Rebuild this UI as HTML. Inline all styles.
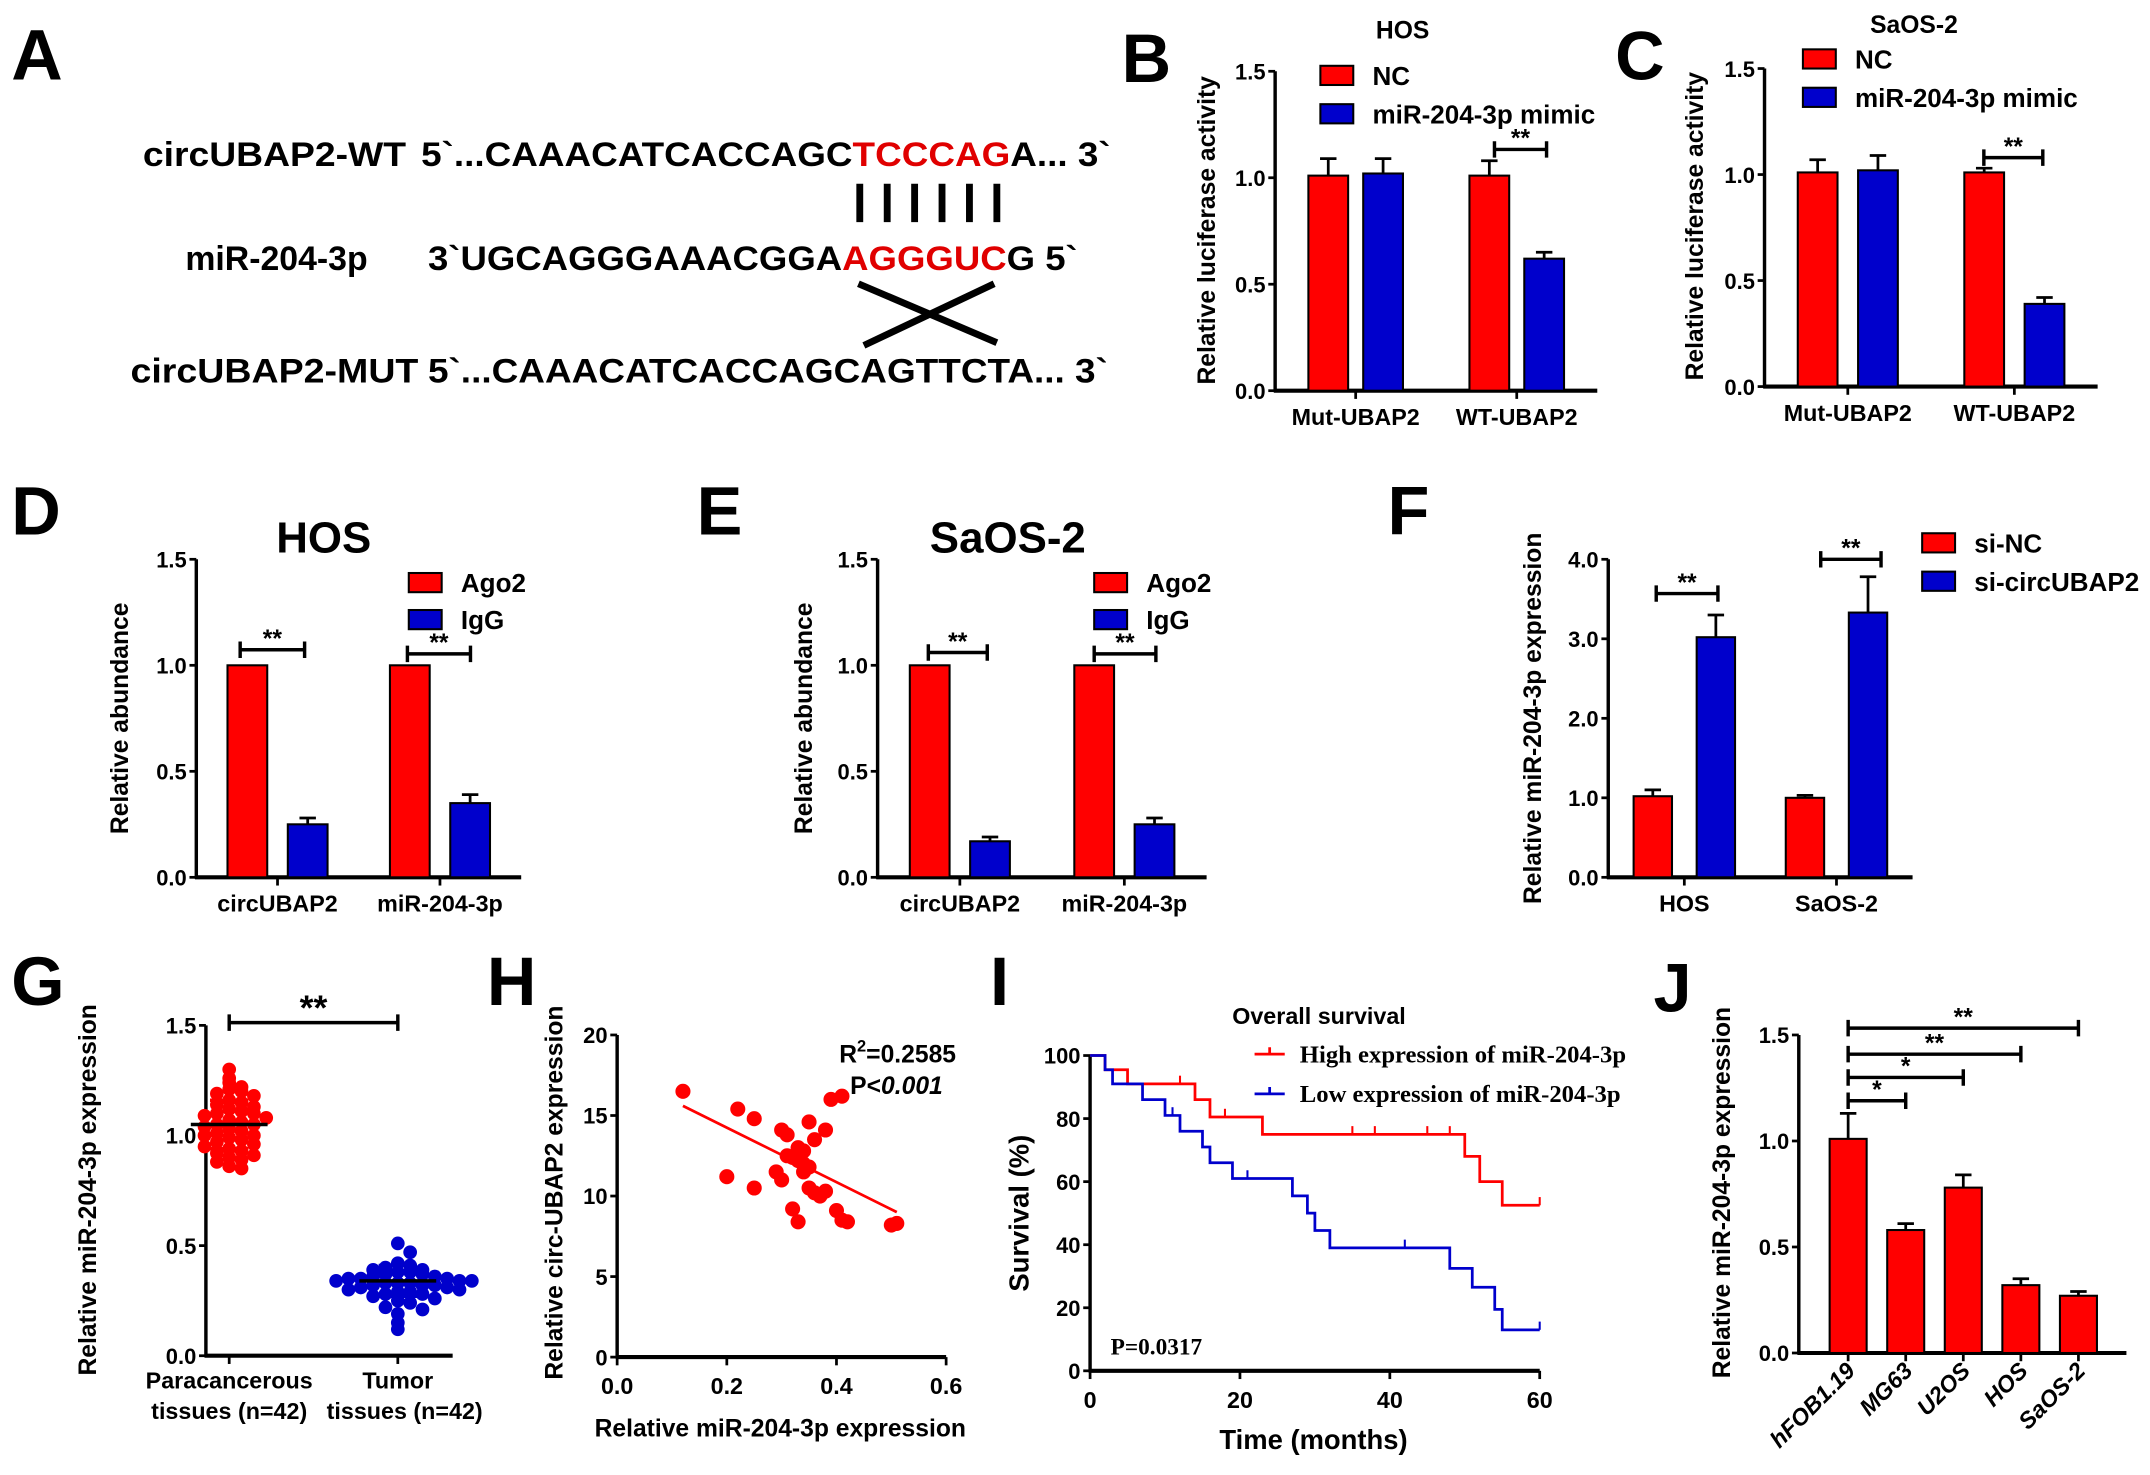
<!DOCTYPE html>
<html><head><meta charset="utf-8">
<style>
html,body{margin:0;padding:0;background:#fff;}
svg{display:block;}
text{font-family:"Liberation Sans",Arial,sans-serif;font-weight:bold;fill:#000;}
.serif{font-family:"Liberation Serif",serif;}
</style></head>
<body>
<svg id="fig" width="2150" height="1475" viewBox="0 0 1568 1076" xmlns="http://www.w3.org/2000/svg">
<g>
<text x="8" y="58" font-size="52">A</text>
<text x="296" y="121" font-size="25" text-anchor="end" textLength="192" lengthAdjust="spacingAndGlyphs">circUBAP2-WT</text>
<text x="307" y="121" font-size="25" textLength="503" lengthAdjust="spacingAndGlyphs">5`...CAAACATCACCAGC<tspan fill="#e00000" style="fill:#e00000">TCCCAG</tspan>A... 3`</text>
<g stroke="#000" stroke-width="5">
<line x1="627" y1="134" x2="627" y2="162"/><line x1="647" y1="134" x2="647" y2="162"/><line x1="667" y1="134" x2="667" y2="162"/><line x1="687" y1="134" x2="687" y2="162"/><line x1="707" y1="134" x2="707" y2="162"/><line x1="727" y1="134" x2="727" y2="162"/>
</g>
<text x="268" y="197" font-size="25" text-anchor="end" textLength="133" lengthAdjust="spacingAndGlyphs">miR-204-3p</text>
<text x="312" y="197" font-size="25" textLength="474" lengthAdjust="spacingAndGlyphs">3`UGCAGGGAAACGGA<tspan style="fill:#e00000">AGGGUC</tspan>G 5`</text>
<g stroke="#000" stroke-width="5">
<line x1="626" y1="207" x2="727" y2="250"/><line x1="725" y1="207" x2="630" y2="252"/>
</g>
<text x="305" y="279" font-size="25" text-anchor="end" textLength="210" lengthAdjust="spacingAndGlyphs">circUBAP2-MUT</text>
<text x="312" y="279" font-size="25" textLength="496" lengthAdjust="spacingAndGlyphs">5`...CAAACATCACCAGCAGTTCTA... 3`</text>
</g>
</svg>
<script>
// ===== DATA =====
const bCats = ['Mut-UBAP2','WT-UBAP2'];
const bNC = [1.01, 1.01];
const bNCerr = [0.08, 0.07];
const bMimic = [1.02, 0.62];
const bMimicErr = [0.07, 0.03];
const cCats = ['Mut-UBAP2','WT-UBAP2'];
const cNC = [1.01, 1.01];
const cNCerr = [0.06, 0.02];
const cMimic = [1.02, 0.39];
const cMimicErr = [0.07, 0.03];
const dCats = ['circUBAP2','miR-204-3p'];
const dAgo2 = [1.0, 1.0];
const dIgG = [0.25, 0.35];
const dIgGerr = [0.03, 0.04];
const eCats = ['circUBAP2','miR-204-3p'];
const eAgo2 = [1.0, 1.0];
const eIgG = [0.17, 0.25];
const eIgGerr = [0.02, 0.03];
const fCats = ['HOS','SaOS-2'];
const fNC = [1.02, 1.0];
const fNCerr = [0.08, 0.03];
const fSi = [3.02, 3.33];
const fSiErr = [0.28, 0.45];
const gPara = [1.30,1.26,1.24,1.22,1.21,1.20,1.19,1.18,1.16,1.15,1.14,1.13,1.12,1.11,1.10,1.10,1.09,1.08,1.07,1.06,1.05,1.05,1.04,1.03,1.02,1.01,1.00,1.00,0.99,0.98,0.97,0.96,0.95,0.94,0.93,0.92,0.91,0.90,0.89,0.88,0.86,0.85];
const gTumor = [0.51,0.47,0.42,0.41,0.40,0.39,0.39,0.38,0.38,0.37,0.37,0.36,0.36,0.35,0.35,0.35,0.34,0.34,0.34,0.33,0.33,0.33,0.32,0.32,0.32,0.31,0.31,0.30,0.30,0.29,0.29,0.28,0.28,0.27,0.26,0.25,0.24,0.22,0.21,0.19,0.15,0.12];
const gMeans = [1.05, 0.34];
const gSD = [0.11, 0.07];
const hX = [0.12,0.20,0.22,0.25,0.25,0.29,0.30,0.30,0.31,0.31,0.32,0.32,0.33,0.33,0.33,0.34,0.34,0.34,0.35,0.35,0.35,0.36,0.36,0.37,0.38,0.38,0.39,0.40,0.41,0.41,0.42,0.50,0.51];
const hY = [16.5,11.2,15.4,10.5,14.8,11.5,14.1,11.0,13.8,12.5,12.4,9.2,13.0,12.2,8.4,12.8,12.0,11.5,10.5,11.8,14.6,10.2,13.5,10.0,14.1,10.3,16.0,9.1,16.2,8.5,8.4,8.2,8.3];
const hFit = [15.6, 9.0];
const hFitX = [0.12, 0.51];
const iHighT = [0,2,5,14,16,23,50,52,55,60];
const iHighS = [100,95.5,91,86,80.5,75,68,60,52.5,52.5];
const iHighCens = [12,18,35,38,45,48,60];
const iLowT = [0,2,3,7,10,12,15,16,19,27,29,30,32,48,51,54,55,60];
const iLowS = [100,95.5,91,86,81,76,71,66,61,55.5,50,44.5,39,32.5,26.5,19.5,13,13];
const iLowCens = [11,21,42,60];
const jCats = ['hFOB1.19','MG63','U2OS','HOS','SaOS-2'];
const jVals = [1.01, 0.58, 0.78, 0.32, 0.27];
const jErr = [0.12, 0.03, 0.06, 0.03, 0.02];
const jSig = ['*','*','**','**'];

// ===== HELPERS =====
const NS = 'http://www.w3.org/2000/svg';
const svg = document.getElementById('fig');
function el(tag, attrs, parent) {
  const e = document.createElementNS(NS, tag);
  for (const k in attrs) e.setAttribute(k, attrs[k]);
  (parent || svg).appendChild(e);
  return e;
}
function txt(s, attrs, parent) { const t = el('text', attrs, parent); t.textContent = s; return t; }
const RED = '#ff0000', BLUE = '#0000cc';

function makeAxis(L, ticks, tickLabels, name) {
  const g = el('g', {});
  
  
  const ys = v => L.yBot - (v / L.vmax) * (L.yBot - L.yTop);
  const ax = el('line', {x1: L.ax, y1: L.yTop, x2: L.ax, y2: L.yBot + 1, stroke: '#000', 'stroke-width': 2.5}, g);
  
  
  const bx = el('line', {x1: L.ax - 1, y1: L.yBot, x2: L.axEnd, y2: L.yBot, stroke: '#000', 'stroke-width': 3}, g);
  
  
  ticks.forEach((v, i) => {
    const y = ys(v);
    const tk = el('line', {x1: L.ax - 5, y1: y, x2: L.ax, y2: y, stroke: '#000', 'stroke-width': 2}, g);
    
    
    const tl = txt(tickLabels[i], {x: L.ax - 7, y: y + 6, 'font-size': L.tfs || 16, 'text-anchor': 'end'}, g);
    
    
  });
  return {g, ys};
}
function ylab(s, x, y, fs, g) {
  const t = txt(s, {x: x, y: y, 'font-size': fs, 'text-anchor': 'middle', transform: 'rotate(-90 ' + x + ' ' + y + ')'}, g);
  
  
}
function bracket(x1, x2, y, label, g, fs) {
  const p = el('path', {d: 'M' + x1 + ' ' + (y - 6) + 'V' + (y + 6) + 'M' + x1 + ' ' + y + 'H' + x2 + 'M' + x2 + ' ' + (y - 6) + 'V' + (y + 6), stroke: '#000', 'stroke-width': 2.5, fill: 'none'}, g);
  
  
  const t = txt(label, {x: (x1 + x2) / 2, y: y - 2, 'font-size': fs || 18, 'text-anchor': 'middle'}, g);
  
  
}
function bar(cx, w, v, err, color, ys, yBot, g) {
  const y = ys(v);
  const r = el('rect', {x: cx - w / 2, y: y, width: w, height: yBot - y, fill: color, stroke: '#000', 'stroke-width': 1.5}, g);
  
  
  if (err) {
    const ye = ys(v + err);
    const e = el('path', {d: 'M' + cx + ' ' + y + 'V' + ye + 'M' + (cx - 6) + ' ' + ye + 'H' + (cx + 6), stroke: '#000', 'stroke-width': 2}, g);
    
    
  }
}
function legendBox(x, y, color, label, g, fs) {
  const r = el('rect', {x: x, y: y, width: 24, height: 14, fill: color, stroke: '#000', 'stroke-width': 1.5}, g);
  
  
  const t = txt(label, {x: x + 38, y: y + 14, 'font-size': fs || 19}, g);
  
  
}
function panelLetter(s, x, y) {
  const t = txt(s, {x: x, y: y, 'font-size': 50});
  
  
}
function groupedBars(L, cats, s1, e1, s2, e2, ticks, tlabels, name) {
  const A = makeAxis(L, ticks, tlabels, name);
  const n = cats.length, step = (L.axEnd - L.ax) / n;
  cats.forEach((c, i) => {
    const cx = L.ax + (i + 0.5) * step;
    bar(cx - L.off, L.bw, s1[i], e1 ? e1[i] : 0, RED, A.ys, L.yBot, A.g);
    bar(cx + L.off, L.bw, s2[i], e2 ? e2[i] : 0, BLUE, A.ys, L.yBot, A.g);
    const tk = el('line', {x1: cx, y1: L.yBot, x2: cx, y2: L.yBot + 6, stroke: '#000', 'stroke-width': 2}, A.g);
    
    
    const t = txt(c, {x: cx, y: L.yBot + 25, 'font-size': 17, 'text-anchor': 'middle'}, A.g);
    
    
  });
  return A;
}

// ===== PANEL B =====
panelLetter('B', 818, 60);
const LB = {ax: 930, axEnd: 1165, yTop: 52, yBot: 285, vmax: 1.5, bw: 29, off: 20};
const B = groupedBars(LB, bCats, bNC, bNCerr, bMimic, bMimicErr, [0, 0.5, 1, 1.5], ['0.0','0.5','1.0','1.5'], 'chart-b');
ylab('Relative luciferase activity', 886, 168, 18, B.g);
const bt = txt('HOS', {x: 1023, y: 28, 'font-size': 18, 'text-anchor': 'middle'}, B.g);


legendBox(963, 48, RED, 'NC', B.g);
legendBox(963, 76, BLUE, 'miR-204-3p mimic', B.g);
bracket(1090, 1128, 109, '**', B.g);

// ===== PANEL C =====
panelLetter('C', 1178, 58);
const LC = {ax: 1287, axEnd: 1530, yTop: 50, yBot: 282, vmax: 1.5, bw: 29, off: 22};
const C = groupedBars(LC, cCats, cNC, cNCerr, cMimic, cMimicErr, [0, 0.5, 1, 1.5], ['0.0','0.5','1.0','1.5'], 'chart-c');
ylab('Relative luciferase activity', 1242, 165, 18, C.g);
const ct = txt('SaOS-2', {x: 1396, y: 24, 'font-size': 18, 'text-anchor': 'middle'}, C.g);


legendBox(1315, 36, RED, 'NC', C.g);
legendBox(1315, 64, BLUE, 'miR-204-3p mimic', C.g);
bracket(1447, 1490, 115, '**', C.g);

// ===== PANEL D =====
panelLetter('D', 8, 390);
const LD = {ax: 143, axEnd: 380, yTop: 408, yBot: 640, vmax: 1.5, bw: 29, off: 22};
const D = groupedBars(LD, dCats, dAgo2, null, dIgG, dIgGerr, [0, 0.5, 1, 1.5], ['0.0','0.5','1.0','1.5'], 'chart-d');
ylab('Relative abundance', 93, 524, 18, D.g);
const dt = txt('HOS', {x: 236, y: 403, 'font-size': 32, 'text-anchor': 'middle'}, D.g);


legendBox(298, 418, RED, 'Ago2', D.g);
legendBox(298, 445, BLUE, 'IgG', D.g);
bracket(175, 222, 474, '**', D.g);
bracket(297, 343, 477, '**', D.g);

// ===== PANEL E =====
panelLetter('E', 508, 390);
const LE = {ax: 640, axEnd: 880, yTop: 408, yBot: 640, vmax: 1.5, bw: 29, off: 22};
const E = groupedBars(LE, eCats, eAgo2, null, eIgG, eIgGerr, [0, 0.5, 1, 1.5], ['0.0','0.5','1.0','1.5'], 'chart-e');
ylab('Relative abundance', 592, 524, 18, E.g);
const et = txt('SaOS-2', {x: 735, y: 403, 'font-size': 32, 'text-anchor': 'middle'}, E.g);


legendBox(798, 418, RED, 'Ago2', E.g);
legendBox(798, 445, BLUE, 'IgG', E.g);
bracket(677, 720, 476, '**', E.g);
bracket(798, 843, 477, '**', E.g);

// ===== PANEL F =====
panelLetter('F', 1012, 390);
const LF = {ax: 1173, axEnd: 1395, yTop: 408, yBot: 640, vmax: 4, bw: 28, off: 23};
const F = groupedBars(LF, fCats, fNC, fNCerr, fSi, fSiErr, [0, 1, 2, 3, 4], ['0.0','1.0','2.0','3.0','4.0'], 'chart-f');
ylab('Relative miR-204-3p expression', 1124, 524, 18, F.g);
legendBox(1402, 389, RED, 'si-NC', F.g);
legendBox(1402, 417, BLUE, 'si-circUBAP2', F.g);
bracket(1208, 1253, 433, '**', F.g);
bracket(1328, 1372, 408, '**', F.g);

// ===== PANEL G =====
panelLetter('G', 8, 733);
const LG = {ax: 150, axEnd: 330, yTop: 748, yBot: 989, vmax: 1.5};
const G = makeAxis(LG, [0, 0.5, 1, 1.5], ['0.0','0.5','1.0','1.5'], 'chart-g');
ylab('Relative miR-204-3p expression', 70, 868, 18, G.g);
const gCenters = [167, 290];
function beeswarm(vals, cx, color, g) {
  const used = {};
  vals.forEach(v => {
    const y = G.ys(v);
    const key = Math.round(y / 7);
    const k = used[key] || 0;
    used[key] = k + 1;
    const dx = (k % 2 ? 1 : -1) * Math.ceil(k / 2) * 9;
    const c = el('circle', {cx: cx + dx, cy: y, r: 5, fill: color}, g);
    
    
  });
}
beeswarm(gPara, gCenters[0], RED, G.g);
beeswarm(gTumor, gCenters[1], BLUE, G.g);
gMeans.forEach((m, i) => {
  const cx = gCenters[i];
  const ml = el('line', {x1: cx - 28, y1: G.ys(m), x2: cx + 28, y2: G.ys(m), stroke: '#000', 'stroke-width': 2.5}, G.g);
  
  
  const sd = el('path', {d: 'M' + (cx - 14) + ' ' + G.ys(m + gSD[i]) + 'H' + (cx + 14) + 'M' + (cx - 14) + ' ' + G.ys(m - gSD[i]) + 'H' + (cx + 14), stroke: i ? BLUE : RED, 'stroke-width': 2.5}, G.g);
  
  
  const tk = el('line', {x1: cx, y1: LG.yBot, x2: cx, y2: LG.yBot + 6, stroke: '#000', 'stroke-width': 2}, G.g);
  
  
});
const gl1 = txt('Paracancerous', {x: 167, y: 1013, 'font-size': 17, 'text-anchor': 'middle'}, G.g);


const gl2 = txt('tissues (n=42)', {x: 167, y: 1035, 'font-size': 17, 'text-anchor': 'middle'}, G.g);


const gl3 = txt('Tumor', {x: 290, y: 1013, 'font-size': 17, 'text-anchor': 'middle'}, G.g);


const gl4 = txt('tissues (n=42)', {x: 295, y: 1035, 'font-size': 17, 'text-anchor': 'middle'}, G.g);


bracket(167, 290, 746, '**', G.g, 26);

// ===== PANEL H =====
panelLetter('H', 355, 733);
const LH = {ax: 450, axEnd: 690, yTop: 755, yBot: 990, vmax: 20};
const H = makeAxis(LH, [0, 5, 10, 15, 20], ['0','5','10','15','20'], 'chart-h');
const hxs = v => LH.ax + v / 0.6 * (LH.axEnd - LH.ax);
[0, 0.2, 0.4, 0.6].forEach(v => {
  const tk = el('line', {x1: hxs(v), y1: LH.yBot, x2: hxs(v), y2: LH.yBot + 6, stroke: '#000', 'stroke-width': 2}, H.g);
  
  
  const t = txt(v.toFixed(1), {x: hxs(v), y: LH.yBot + 27, 'font-size': 17, 'text-anchor': 'middle'}, H.g);
  
  
});
ylab('Relative circ-UBAP2 expression', 410, 870, 18, H.g);
const hxl = txt('Relative miR-204-3p expression', {x: 569, y: 1048, 'font-size': 18, 'text-anchor': 'middle'}, H.g);


const fit = el('line', {x1: hxs(hFitX[0]), y1: H.ys(hFit[0]), x2: hxs(hFitX[1]), y2: H.ys(hFit[1]), stroke: RED, 'stroke-width': 2}, H.g);


hX.forEach((x, i) => {
  const c = el('circle', {cx: hxs(x), cy: H.ys(hY[i]), r: 5.5, fill: RED}, H.g);
  
  
});
const r2 = txt('R', {x: 612, y: 775, 'font-size': 18}, H.g);
r2.innerHTML = 'R<tspan dy="-8" font-size="12">2</tspan><tspan dy="8">=0.2585</tspan>';


const pv = txt('', {x: 620, y: 798, 'font-size': 18}, H.g);
pv.innerHTML = 'P&lt;<tspan font-style="italic">0.001</tspan>';



// ===== PANEL I =====
panelLetter('I', 722, 733);
const LI = {ax: 795, axEnd: 1123, yTop: 770, yBot: 1000, vmax: 100};
const I = makeAxis(LI, [0, 20, 40, 60, 80, 100], ['0','20','40','60','80','100'], 'chart-i');
const ixs = t => LI.ax + t / 60 * (LI.axEnd - LI.ax);
[0, 20, 40, 60].forEach(v => {
  const tk = el('line', {x1: ixs(v), y1: LI.yBot, x2: ixs(v), y2: LI.yBot + 6, stroke: '#000', 'stroke-width': 2}, I.g);
  
  
  const t = txt(String(v), {x: ixs(v), y: LI.yBot + 27, 'font-size': 17, 'text-anchor': 'middle'}, I.g);
  
  
});
ylab('Survival (%)', 750, 885, 20, I.g);
const ixl = txt('Time (months)', {x: 958, y: 1057, 'font-size': 20, 'text-anchor': 'middle'}, I.g);


const it = txt('Overall survival', {x: 962, y: 747, 'font-size': 17, 'text-anchor': 'middle'}, I.g);


function km(T, S, cens, color, name) {
  let d = 'M' + ixs(T[0]) + ' ' + I.ys(S[0]);
  for (let i = 1; i < T.length; i++) d += 'H' + ixs(T[i]) + 'V' + I.ys(S[i]);
  const p = el('path', {d: d, stroke: color, 'stroke-width': 2, fill: 'none'}, I.g);
  
  
  cens.forEach(c => {
    let s = S[0];
    for (let i = 0; i < T.length; i++) if (T[i] <= c) s = S[i];
    const m = el('line', {x1: ixs(c), y1: I.ys(s), x2: ixs(c), y2: I.ys(s) - 6, stroke: color, 'stroke-width': 1.5}, I.g);
    
    
  });
}
km(iHighT, iHighS, iHighCens, RED, 'high-expression-curve');
km(iLowT, iLowS, iLowCens, BLUE, 'low-expression-curve');
[[RED, 'High expression of miR-204-3p', 769], [BLUE, 'Low expression of miR-204-3p', 798]].forEach(([c, s, y]) => {
  const l = el('path', {d: 'M915 ' + y + 'H937M926 ' + y + 'V' + (y - 5), stroke: c, 'stroke-width': 2}, I.g);
  
  
  const t = txt(s, {x: 948, y: y + 6, 'font-size': 18, class: 'serif'}, I.g);
  
  
});
const ip = txt('P=0.0317', {x: 810, y: 988, 'font-size': 17, class: 'serif'}, I.g);



// ===== PANEL J =====
panelLetter('J', 1206, 738);
const LJ = {ax: 1312, axEnd: 1551, yTop: 755, yBot: 987, vmax: 1.5};
const J = makeAxis(LJ, [0, 0.5, 1, 1.5], ['0.0','0.5','1.0','1.5'], 'chart-j');
ylab('Relative miR-204-3p expression', 1262, 870, 18, J.g);
const jx = i => 1348 + i * 42;
jCats.forEach((c, i) => {
  bar(jx(i), 27, jVals[i], jErr[i], RED, J.ys, LJ.yBot, J.g);
  const tk = el('line', {x1: jx(i), y1: LJ.yBot, x2: jx(i), y2: LJ.yBot + 6, stroke: '#000', 'stroke-width': 2}, J.g);
  
  
  const t = txt(c, {x: jx(i) + 6, y: LJ.yBot + 14, 'font-size': 17, 'text-anchor': 'end', 'font-style': 'italic', transform: 'rotate(-45 ' + (jx(i) + 6) + ' ' + (LJ.yBot + 14) + ')'}, J.g);
  
  
});
const jY = [803, 786, 769, 750];
jSig.forEach((s, k) => {
  bracket(jx(0), jx(k + 1), jY[k], s, J.g);
});
</script>
</body></html>
